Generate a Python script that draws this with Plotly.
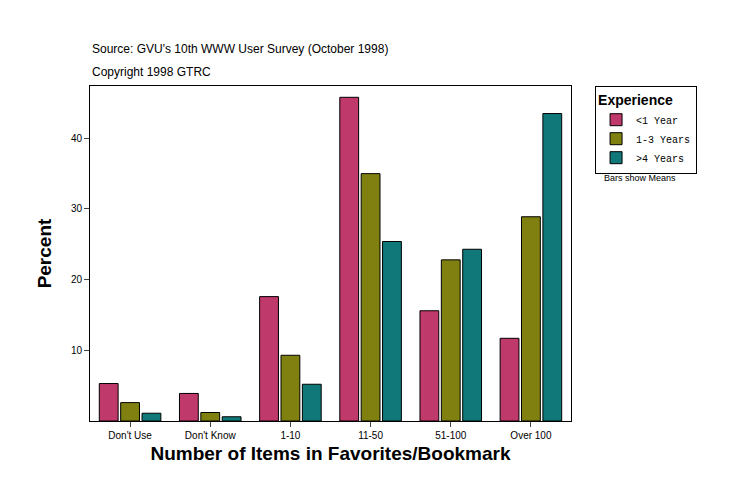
import plotly.graph_objects as go

categories = ["Don't Use", "Don't Know", "1-10", "11-50", "51-100", "Over 100"]
lt1 = [5.3, 3.9, 17.6, 45.8, 15.6, 11.7]
y1_3 = [2.6, 1.2, 9.3, 35.0, 22.8, 28.9]
gt4 = [1.1, 0.6, 5.2, 25.4, 24.3, 43.5]

series = [("<1 Year", lt1, "#C0396B"), ("1-3 Years", y1_3, "#808010"), (">4 Years", gt4, "#107878")]

fig = go.Figure()
for name, vals, col in series:
    fig.add_trace(go.Bar(x=categories, y=vals, name=name, marker_color=col,
                         marker_line_color="black", marker_line_width=1))

fig.update_layout(
    width=736, height=496, margin=dict(l=82, r=173, t=78, b=83, autoexpand=False),
    paper_bgcolor="white", plot_bgcolor="white",
    barmode="group", bargap=0.2, bargroupgap=0.12,
    font=dict(family="Arial", size=11, color="black"),
    showlegend=True,
    legend=dict(x=1.05, y=1, xanchor="left", yanchor="top",
                bordercolor="black", borderwidth=1,
                font=dict(family="Courier New", size=10),
                title=dict(text="<b>Experience</b>", font=dict(family="Arial", size=14)),
                tracegroupgap=0, itemwidth=30, traceorder="normal"),
    xaxis=dict(showline=True, linecolor="black", mirror=True, ticks="outside",
               tickfont=dict(size=10),
               title=dict(text="<b>Number of Items in Favorites/Bookmark</b>",
                          font=dict(size=19), standoff=6)),
    yaxis=dict(range=[0, 47.4], showline=True, linecolor="black", mirror=True,
               ticks="outside", tickvals=[10, 20, 30, 40], showgrid=False,
               tickfont=dict(size=10),
               title=dict(text="<b>Percent</b>", font=dict(size=19), standoff=14)),
)
fig.add_annotation(text="Source: GVU's 10th WWW User Survey (October 1998)", xref="paper", yref="paper",
                   x=0, y=1.085, xanchor="left", yanchor="bottom", showarrow=False, font=dict(size=12))
fig.add_annotation(text="Copyright 1998 GTRC", xref="paper", yref="paper",
                   x=0, y=1.015, xanchor="left", yanchor="bottom", showarrow=False, font=dict(size=12))
fig.add_annotation(text="Bars show Means", xref="paper", yref="paper", x=1.065, y=0.745,
                   xanchor="left", yanchor="top", showarrow=False, font=dict(size=9))

fig.write_html("out.html")
